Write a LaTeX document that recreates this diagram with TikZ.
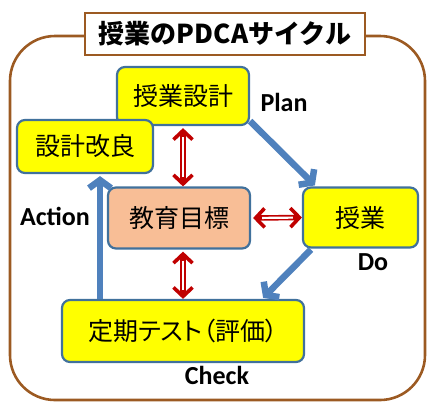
\documentclass[tikz,border=0pt]{standalone}
\usepackage{fontspec}
\newfontfamily\jpfont{Noto Sans CJK JP}
\newfontfamily\jppfont{Noto Sans CJK JP}[RawFeature=+palt]
\newfontfamily\lblfont{Carlito}
\usepackage{xcolor}
\definecolor{cFrame}{HTML}{9C5A22}
\definecolor{cEdge}{HTML}{41719C}
\definecolor{cCycle}{HTML}{4F81BD}
\definecolor{cLink}{HTML}{C00000}
\definecolor{cGoal}{HTML}{F8BE96}
\definecolor{cStep}{HTML}{FFFF00}
\usetikzlibrary{positioning,arrows.meta,calc}
\tikzset{
  frame-box/.style={draw=cFrame,line width=2.6pt,rounded corners=45pt},
  title-box/.style={draw=cFrame,line width=2.6pt,fill=white,
    minimum width=280pt,minimum height=42pt,
    font=\jpfont\bfseries\fontsize{26}{30}\selectfont},
  node-box/.style={draw=cEdge,line width=2.2pt,rounded corners=8pt,
    fill=cStep,align=center,inner sep=2pt,
    font=\jpfont\fontsize{25}{28}\selectfont},
  node-goal/.style={fill=cGoal},
  phase/.style={font=\lblfont\bfseries\fontsize{26}{28}\selectfont},
  arrow-cycle/.style={-{Straight Barb[length=8pt,width=22pt]},
    line width=6.5pt,draw=cCycle},
  arrow-link/.style={{Straight Barb[length=9pt,width=19pt,line width=3.6pt]}-%
    {Straight Barb[length=9pt,width=19pt,line width=3.6pt]},
    line width=5.5pt,draw=cLink,
    postaction={draw=white,line width=2.2pt,-,shorten >=9pt,shorten <=9pt}},
}
\begin{document}
\begin{tikzpicture}[x=1pt,y=-1pt]
  \useasboundingbox (0,0) rectangle (435,408);
  % 外枠とタイトル
  \draw[frame-box] (10,36) rectangle (425,400);
  \node[title-box] (title) at (225,34) {授業のPDCAサイクル};

  % 各ステップ
  \node[node-box,minimum width=132pt,minimum height=58pt] (plan) at (183,96) {授業設計};
  \node[node-box,minimum width=136pt,minimum height=53pt] (improve) at (85,146.5) {設計改良};
  \node[node-box,node-goal,minimum width=142pt,minimum height=61pt] (goal) at (179,218) {教育目標};
  \node[node-box,minimum width=115pt,minimum height=60pt] (lesson) at (360.5,217.5) {授業};
  \node[node-box,minimum width=242pt,minimum height=62pt] (test) at (183,331) {\jppfont 定期テスト（評価）};

  % ラベル
  \node[phase] (lbl-plan) at (284,102) {Plan};
  \node[phase] (lbl-action) at (55,216) {Action};
  \node[phase] (lbl-do) at (373,262) {Do};
  \node[phase] (lbl-check) at (217,375) {Check};

  % サイクルの矢印
  \coordinate (act) at (100,0);
  \draw[arrow-cycle] ($(plan.south east)+(0,-5)$) -- ($(lesson.north west)+(13,-1)$);
  \draw[arrow-cycle] ($(lesson.south west)+(9,1)$) -- ($(test.north east)+(-42,-1)$);
  \draw[arrow-cycle] (test.north -| act) -- ($(improve.south -| act)+(0,2)$);

  % 教育目標との関係
  \draw[arrow-link] ($(plan.south)+(0,2)$) -- (plan.south |- goal.north);
  \draw[arrow-link] ($(goal.east)+(2,0)$) -- (lesson.west);
  \draw[arrow-link] ($(test.north |- goal.south)+(0,2)$) -- (test.north);
\end{tikzpicture}
\end{document}
